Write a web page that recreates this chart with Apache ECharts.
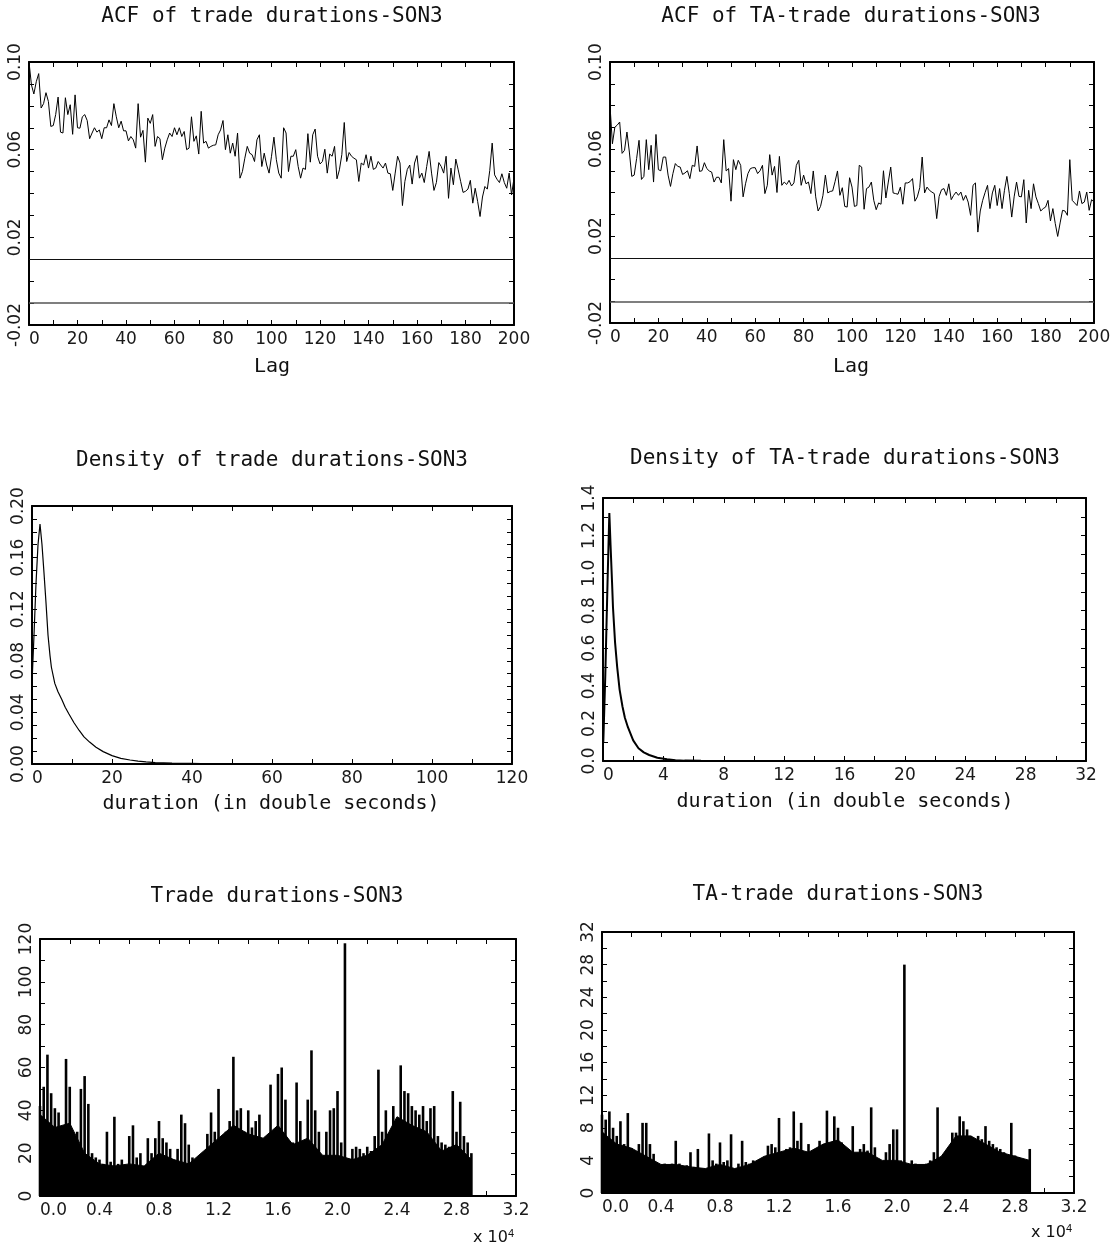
<!DOCTYPE html>
<html><head><meta charset="utf-8">
<script src="https://cdn.jsdelivr.net/npm/echarts@6/dist/echarts.min.js"></script>
<style>html,body{margin:0;padding:0;background:#fff}#c{width:1115px;height:1249px}</style>
</head><body><div id="c"></div>
<script>
// ---------------- DATA ----------------
const titles = ['ACF of trade durations-SON3','ACF of TA-trade durations-SON3','Density of trade durations-SON3','Density of TA-trade durations-SON3','Trade durations-SON3','TA-trade durations-SON3'];
const acfBand = [0.0113, -0.0113];
// ACF of trade durations, lags 0..200
const acfTrade = [0.100,0.0896,0.0854,0.091,0.0947,0.079,0.081,0.086,0.082,0.0706,
0.071,0.076,0.084,0.068,0.0676,0.0837,0.076,0.0805,0.067,0.085,
0.070,0.0698,0.075,0.076,0.0733,0.065,0.0676,0.070,0.068,0.069,
0.065,0.070,0.070,0.0736,0.071,0.081,0.075,0.070,0.073,0.0686,
0.0686,0.064,0.066,0.0645,0.0607,0.081,0.0657,0.0688,0.0543,0.0744,
0.072,0.076,0.0615,0.066,0.065,0.0554,0.0607,0.0645,0.0676,0.066,
0.070,0.0668,0.070,0.066,0.0683,0.060,0.0607,0.075,0.0638,0.0663,
0.058,0.0775,0.063,0.0638,0.0607,0.0615,0.062,0.0622,0.0668,0.069,
0.0733,0.060,0.0668,0.0584,0.063,0.057,0.0676,0.047,0.050,0.0561,
0.0615,0.0584,0.0577,0.0546,0.0645,0.0668,0.0523,0.0584,0.053,0.0493,
0.057,0.0657,0.0554,0.0493,0.047,0.070,0.0676,0.050,0.057,0.057,
0.060,0.0523,0.047,0.0516,0.051,0.0673,0.0543,0.0668,0.0694,0.057,
0.0535,0.0546,0.0602,0.0493,0.058,0.057,0.0615,0.0467,0.0508,0.0577,
0.0724,0.0546,0.0587,0.057,0.0561,0.0554,0.0455,0.0539,0.053,0.0577,
0.0516,0.057,0.051,0.0516,0.0546,0.053,0.0516,0.0539,0.0493,0.049,
0.0414,0.0493,0.057,0.0539,0.0345,0.0455,0.051,0.053,0.0443,0.0539,
0.0573,0.047,0.0493,0.045,0.0523,0.0592,0.0493,0.0414,0.045,0.0541,
0.0523,0.0493,0.057,0.0378,0.0516,0.044,0.0557,0.0508,0.0455,0.0405,
0.041,0.042,0.046,0.0356,0.0424,0.0364,0.0295,0.0384,0.0432,0.042,
0.0505,0.063,0.0485,0.0465,0.045,0.049,0.045,0.0424,0.0493,0.0394,
0.047];
// ACF of TA-trade durations, lags 0..200
const acfTA = [0.080,0.0624,0.070,0.071,0.0724,0.058,0.0594,0.0678,0.0586,0.0474,
0.048,0.0556,0.064,0.046,0.0474,0.0643,0.0505,0.0617,0.0448,0.0667,
0.0505,0.050,0.0563,0.0563,0.048,0.0428,0.0487,0.0533,0.052,0.0517,
0.0483,0.049,0.050,0.0464,0.0525,0.052,0.0614,0.0497,0.050,0.0537,0.051,
0.0499,0.0494,0.0448,0.047,0.047,0.0444,0.0643,0.0499,0.051,0.036,
0.0551,0.0505,0.0548,0.0525,0.038,0.044,0.0487,0.051,0.0514,0.0514,
0.0487,0.050,0.0525,0.0395,0.0433,0.0574,0.048,0.052,0.040,0.0566,0.0433,
0.0448,0.0437,0.0456,0.043,0.0444,0.0525,0.0548,0.0433,0.048,0.044,
0.0448,0.0395,0.0499,0.038,0.0315,0.0336,0.0387,0.048,0.0398,0.0405,
0.0407,0.045,0.0499,0.0387,0.0422,0.0336,0.0333,0.0468,0.0425,0.0336,0.034,
0.0525,0.0517,0.0323,0.0418,0.0425,0.0448,0.0364,0.0321,0.0352,0.0346,
0.050,0.0375,0.0448,0.0517,0.0398,0.0395,0.0392,0.0425,0.0346,0.0444,
0.0444,0.045,0.0464,0.036,0.038,0.0422,0.0563,0.0398,0.0425,0.041,0.0402,
0.0395,0.028,0.0382,0.0413,0.0418,0.0387,0.044,0.0367,0.0387,0.0402,
0.0387,0.0402,0.0364,0.0387,0.0356,0.0295,0.0433,0.0444,0.0218,0.0315,
0.0364,0.040,0.0433,0.0326,0.0398,0.0433,0.034,0.0418,0.0326,0.041,0.0474,
0.0395,0.0287,0.038,0.0448,0.0382,0.038,0.0459,0.026,0.041,0.0326,
0.044,0.038,0.0349,0.0315,0.0326,0.0333,0.0364,0.0269,0.0326,0.0257,
0.0198,0.026,0.0318,0.0315,0.0295,0.0551,0.0364,0.0352,0.034,0.0407,0.0349,
0.0356,0.0402,0.0318,0.0367,0.0356];
// density of trade durations
const densTradeX = [0.1,0.5,1.0,1.5,2.0,2.5,3.0,3.5,4.0,4.5,4.85,5.7,6.5,7.45,8.3,9.2,10.5,11.8,13,14.4,16,17.8,20,22.2,24.5,26.5,28.5,30.8,35,39.5,45,50];
const densTradeY = [0.07,0.10,0.14,0.17,0.186,0.17,0.148,0.125,0.10,0.084,0.075,0.0625,0.056,0.050,0.044,0.039,0.032,0.026,0.021,0.017,0.013,0.0096,0.0065,0.0044,0.0031,0.0023,0.0016,0.001,0.0007,0.0005,0.0002,0.0001];
// density of TA-trade durations
const densTAX = [0.02,0.15,0.3,0.42,0.5,0.6,0.66,0.8,0.94,1.1,1.29,1.45,1.65,2.0,2.35,2.7,3.06,3.6,4.24,4.8,5.4,6.5,7.8,9];
const densTAY = [0.10,0.45,0.95,1.32,1.15,0.95,0.82,0.63,0.50,0.38,0.29,0.23,0.18,0.11,0.068,0.046,0.032,0.017,0.009,0.004,0.002,0.001,0.0005,0.0002];
// trade durations: upper envelope per block of 250 observations, and the solid level per block of 1000
const obsStep = 250, baseStep = 1000;
const tradePeak = [42,51,66,48,41,39,30,64,51,27,30,50,56,43,20,18,17,15,30,16,
37,15,17,14,28,33,18,20,10,27,20,27,35,27,25,22,10,22,38,34,
24,18,17,16,20,29,39,30,50,27,30,35,65,40,41,30,40,32,35,38,
24,22,52,30,57,60,45,22,25,53,35,25,45,68,40,30,12,30,40,41,
49,25,118,12,22,23,22,20,23,21,28,59,30,40,22,42,25,61,49,48,
42,40,38,42,35,41,42,28,25,24,23,49,30,44,28,25,20];
const tradeBase = [38,32,34,20,15,14,15,14,20,17,15,21,27,33,29,27,33,24,27,19,19,17,19,24,37,33,30,21,24,17];
const taPeak = [9.6,9.0,10.0,8.0,7.0,8.8,6.0,9.8,5.5,5.0,6.0,8.6,8.6,6.0,4.8,3.5,3.2,3.6,3.4,3.6,
6.4,3.6,3.0,3.4,5.0,3.2,5.4,3.0,2.2,7.3,4.0,3.6,6.2,3.8,4.0,7.2,2.2,3.6,6.4,3.8,
3.6,4.0,3.4,3.8,4.4,5.8,6.0,5.6,9.2,5.0,5.4,5.6,10.0,6.4,8.6,5.0,6.0,4.8,5.2,6.4,
5.0,10.1,6.0,9.4,8.0,6.2,4.6,5.0,8.2,4.4,5.4,6.0,5.2,10.5,5.6,4.2,3.0,5.0,6.0,7.8,
7.8,4.0,28.0,2.8,4.0,3.6,3.4,3.4,3.6,4.0,5.0,10.5,4.4,4.2,4.0,7.4,7.4,9.4,8.8,7.8,
7.0,6.4,7.0,6.6,8.2,6.4,6.0,5.6,5.4,5.0,4.6,8.6,4.6,4.4,4.0,3.6,5.4];
const taBase = [7.5,6,5.5,4.5,3.5,3.5,3.2,3.0,3.5,3.0,3.5,4.5,5.0,5.5,5.0,6.0,6.5,5.0,5.0,4.0,4.0,3.5,3.5,4.5,7.0,7.0,6.0,5.0,4.5,4.0];

// ---------------- LAYOUT ----------------
const grids = [
  {left:29, top:62, width:485, height:263},
  {left:610, top:62, width:484, height:261},
  {left:32, top:506, width:480, height:258},
  {left:603, top:498, width:483, height:263},
  {left:40, top:939, width:476, height:257},
  {left:602, top:932, width:472, height:261}
];
const tickFont = {fontFamily:"'DejaVu Sans',sans-serif", fontSize:17, color:'#1a1a1a'};
const bigFont = "'DejaVu Sans Mono',monospace";

const xAxes = [], yAxes = [];
function addAxes(i, xc, yc) {
  const line = {show:true, onZero:false, lineStyle:{color:'#000', width:2}};
  const tick = {show:true, inside:true, length:5, lineStyle:{color:'#000', width:1}};
  const mt = n => ({show:true, splitNumber:n, length:5, lineStyle:{color:'#000', width:1}});
  const base = {gridIndex:i, type:'value', axisLine:line, axisTick:tick, splitLine:{show:false}};
  xAxes.push(Object.assign({}, base, {position:'bottom', min:xc.min, max:xc.max, interval:xc.interval, minorTick:mt(xc.minor),
    axisLabel:Object.assign({}, tickFont, {margin:6, formatter:xc.fmt, alignMinLabel:'left', showMinLabel:true, showMaxLabel:true})}));
  xAxes.push(Object.assign({}, base, {position:'top', min:xc.min, max:xc.max, interval:xc.interval, minorTick:mt(xc.minor), axisLabel:{show:false}}));
  yAxes.push(Object.assign({}, base, {position:'left', min:yc.min, max:yc.max, interval:yc.interval, minorTick:mt(yc.minor),
    axisLabel:Object.assign({}, tickFont, {rotate:90, margin:5, formatter:yc.fmt, showMinLabel:true, showMaxLabel:true})}));
  yAxes.push(Object.assign({}, base, {position:'right', min:yc.min, max:yc.max, interval:yc.interval, minorTick:mt(yc.minor), axisLabel:{show:false}}));
}
const f0 = v => String(Math.round(v));
const f1 = v => v.toFixed(1);
const f2 = v => v.toFixed(2);
const f4 = v => (v/1e4).toFixed(1);
addAxes(0, {min:0,max:200,interval:20,minor:2,fmt:f0}, {min:-0.02,max:0.10,interval:0.04,minor:4,fmt:f2});
addAxes(1, {min:0,max:200,interval:20,minor:2,fmt:f0}, {min:-0.02,max:0.10,interval:0.04,minor:4,fmt:f2});
addAxes(2, {min:0,max:120,interval:20,minor:2,fmt:f0}, {min:0,max:0.20,interval:0.04,minor:4,fmt:f2});
addAxes(3, {min:0,max:32,interval:4,minor:2,fmt:f0}, {min:0,max:1.4,interval:0.2,minor:2,fmt:f1});
addAxes(4, {min:0,max:32000,interval:4000,minor:2,fmt:f4}, {min:0,max:120,interval:20,minor:2,fmt:f0});
addAxes(5, {min:0,max:32000,interval:4000,minor:2,fmt:f4}, {min:0,max:32,interval:4,minor:2,fmt:f0});

function acfSeries(i, arr) {
  return {type:'line', xAxisIndex:2*i, yAxisIndex:2*i, data:arr.map((v,k)=>[k,v]), showSymbol:false, symbol:'none',
    lineStyle:{color:'#000', width:1}, silent:true,
    markLine:{silent:true, symbol:'none', label:{show:false}, animation:false,
      data:[{yAxis:acfBand[0], lineStyle:{color:'#111', width:1, type:'solid'}},
            {yAxis:acfBand[1], lineStyle:{color:'#555', width:1.5, type:'solid'}}]}};
}
function densSeries(i, xs, ys, w) {
  return {type:'line', xAxisIndex:2*i, yAxisIndex:2*i, data:xs.map((x,k)=>[x, ys[k]]), showSymbol:false, symbol:'none',
    lineStyle:{color:'#000', width:w}, silent:true};
}
function durSeries(i, peak, base) {
  return [
    {type:'line', xAxisIndex:2*i, yAxisIndex:2*i, data:base.map((v,k)=>[k*baseStep, v]), showSymbol:false, symbol:'none',
      lineStyle:{color:'#000', width:1}, areaStyle:{color:'#000', opacity:1}, silent:true},
    {type:'bar', xAxisIndex:2*i, yAxisIndex:2*i, data:peak.map((v,k)=>[k*obsStep, v]), barWidth:2.6,
      itemStyle:{color:'#000'}, silent:true}
  ];
}

const series = [
  acfSeries(0, acfTrade), acfSeries(1, acfTA),
  densSeries(2, densTradeX, densTradeY, 1.2), densSeries(3, densTAX, densTAY, 2),
  ...durSeries(4, tradePeak, tradeBase), ...durSeries(5, taPeak, taBase)
];

function txt(x, y, text, size, extra) {
  return {type:'text', silent:true, style:Object.assign({x:x, y:y, text:text, fill:'#111', font:size+'px '+bigFont, textAlign:'center', textVerticalAlign:'middle'}, extra||{})};
}
const graphic = [
  txt(272, 17, titles[0], 21), txt(851, 17, titles[1], 21),
  txt(272, 461, titles[2], 21), txt(845, 459, titles[3], 21),
  txt(277, 897, titles[4], 21), txt(838, 895, titles[5], 21),
  txt(272, 367, 'Lag', 20), txt(851, 367, 'Lag', 20),
  txt(271, 804, 'duration (in double seconds)', 20), txt(845, 802, 'duration (in double seconds)', 20),
  {type:'text', silent:true, style:{x:514, y:1238, text:'x 10{s|4}', textAlign:'right', textVerticalAlign:'middle', fill:'#111', font:"16px 'DejaVu Sans'", rich:{s:{fontSize:11, verticalAlign:'top', padding:[0,0,8,0], fill:'#111'}}}},
  {type:'text', silent:true, style:{x:1072, y:1233, text:'x 10{s|4}', textAlign:'right', textVerticalAlign:'middle', fill:'#111', font:"16px 'DejaVu Sans'", rich:{s:{fontSize:11, verticalAlign:'top', padding:[0,0,8,0], fill:'#111'}}}}
];

const chart = echarts.init(document.getElementById('c'), null, {renderer:'canvas'});
chart.setOption({
  animation:false,
  backgroundColor:'#fff',
  grid:grids.map(g => Object.assign({containLabel:false, show:false}, g)),
  xAxis:xAxes, yAxis:yAxes, series:series, graphic:graphic
});
</script></body></html>
